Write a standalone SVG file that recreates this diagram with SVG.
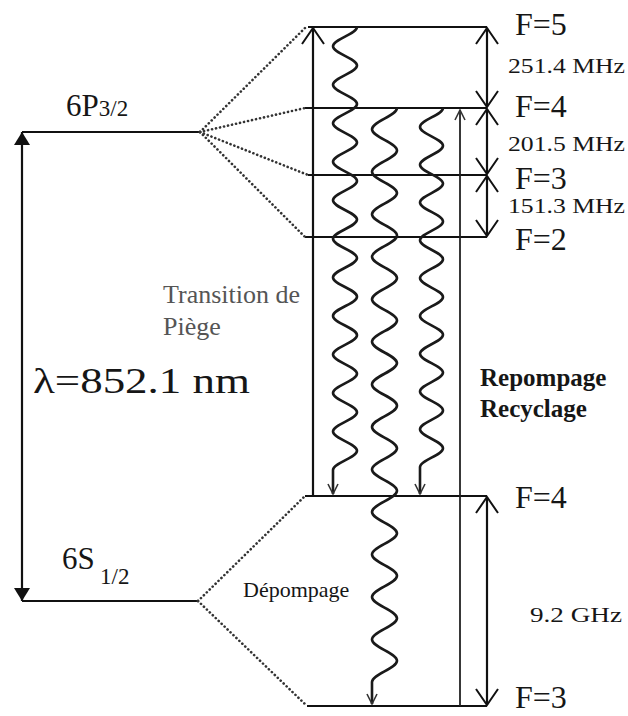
<svg xmlns="http://www.w3.org/2000/svg" width="628" height="716" viewBox="0 0 628 716">
<style>
.lvl{stroke:#111;stroke-width:2.2;fill:none}
.dot{stroke:#333;stroke-width:2.6;stroke-dasharray:0.1 4;stroke-linecap:round;fill:none}
.wave{stroke:#1a1a1a;stroke-width:2.6;fill:none;stroke-linejoin:round}
.thin{stroke:#222;stroke-width:1.8;fill:none}
.t{font-family:"Liberation Serif","Times New Roman",serif;fill:#161616}
.g{fill:#555}
</style>
<defs>
<marker id="open" viewBox="-20 -14 22 28" markerWidth="22" markerHeight="28" refX="0" refY="0" orient="auto-start-reverse" markerUnits="userSpaceOnUse">
<path d="M-16,-11 L0,0 L-16,11" fill="none" stroke="#111" stroke-width="2"/>
</marker>
<marker id="small" viewBox="-12 -7 14 14" markerWidth="14" markerHeight="14" refX="0" refY="0" orient="auto" markerUnits="userSpaceOnUse">
<path d="M-10,-5 L0,0 L-10,5" fill="none" stroke="#333" stroke-width="1.6"/>
</marker>
<marker id="fill" viewBox="-15 -9 16 18" markerWidth="16" markerHeight="18" refX="0" refY="0" orient="auto-start-reverse" markerUnits="userSpaceOnUse">
<path d="M-13,-8 L0,0 L-13,8 Z" fill="#111"/>
</marker>
</defs>

<g id="fine-structure">
<path class="lvl" d="M22,132 L200,132"/>
<path class="lvl" d="M22,601 L198,601"/>
<text class="t" x="66" y="116" font-size="31">6P<tspan font-size="23">3/2</tspan></text>
<text class="t" x="62" y="569" font-size="31">6S<tspan x="100" y="584" font-size="23">1/2</tspan></text>
</g>

<g id="lambda">
<path class="lvl" d="M22,132 L22,601" marker-start="url(#fill)" marker-end="url(#fill)"/>
<text class="t" x="33" y="393" font-size="36" textLength="217" lengthAdjust="spacingAndGlyphs">λ=852.1 nm</text>
</g>

<g id="p-levels">
<path class="lvl" d="M308,27 L487,27"/>
<path class="lvl" d="M305,108 L487,108"/>
<path class="lvl" d="M308,175 L487,175"/>
<path class="lvl" d="M305,237 L487,237"/>
<text class="t" x="515" y="35" font-size="32">F=5</text>
<text class="t" x="515" y="117" font-size="32">F=4</text>
<text class="t" x="515" y="189" font-size="32">F=3</text>
<text class="t" x="515" y="250" font-size="32">F=2</text>
<text class="t" x="508" y="73" font-size="21" textLength="117" lengthAdjust="spacingAndGlyphs">251.4 MHz</text>
<text class="t" x="508" y="151" font-size="21" textLength="117" lengthAdjust="spacingAndGlyphs">201.5 MHz</text>
<text class="t" x="508" y="213" font-size="21" textLength="117" lengthAdjust="spacingAndGlyphs">151.3 MHz</text>
</g>

<g id="s-levels">
<path class="lvl" d="M305,496 L487,496"/>
<path class="lvl" d="M307,706 L487,706"/>
<text class="t" x="515" y="508" font-size="32">F=4</text>
<text class="t" x="515" y="708" font-size="32">F=3</text>
<text class="t" x="530" y="622" font-size="21" textLength="92" lengthAdjust="spacingAndGlyphs">9.2 GHz</text>
</g>

<g id="labels">
<text class="t g" x="163" y="303" font-size="26">Transition de</text>
<text class="t g" x="163" y="335" font-size="26">Piège</text>
<text class="t" x="480" y="386" font-size="25" font-weight="bold">Repompage</text>
<text class="t" x="480" y="417" font-size="25" font-weight="bold">Recyclage</text>
<text class="t" x="243" y="597" font-size="22" fill="#333">Dépompage</text>
</g>

<g id="connectors">
<path class="dot" d="M200,132 L305,28"/>
<path class="dot" d="M200,132 L305,108"/>
<path class="dot" d="M200,132 L308,175"/>
<path class="dot" d="M200,132 L305,237"/>
<path class="dot" d="M198,601 L305,496"/>
<path class="dot" d="M198,601 L307,706"/>

<path class="lvl" d="M313,496 L313,28" marker-end="url(#open)"/>
<path class="thin" d="M460,706 L460,110" marker-end="url(#small)"/>

<path class="lvl" d="M487,28 L487,107" marker-start="url(#open)" marker-end="url(#open)"/>
<path class="lvl" d="M487,109 L487,174" marker-start="url(#open)" marker-end="url(#open)"/>
<path class="lvl" d="M487,176 L487,236" marker-start="url(#open)" marker-end="url(#open)"/>
<path class="lvl" d="M487,497 L487,705" marker-start="url(#open)" marker-end="url(#open)"/>

<path class="wave" marker-end="url(#small)" d="M357,27 c0,7 -24,12.26 -24,19.26 s24,12.26 24,19.26 s-24,12.26 -24,19.26 s24,12.26 24,19.26 s-24,12.26 -24,19.26 s24,12.26 24,19.26 s-24,12.26 -24,19.26 s24,12.26 24,19.26 s-24,12.26 -24,19.26 s24,12.26 24,19.26 s-24,12.26 -24,19.26 s24,12.26 24,19.26 s-24,12.26 -24,19.26 s24,12.26 24,19.26 s-24,12.26 -24,19.26 s24,12.26 24,19.26 s-24,12.26 -24,19.26 s24,12.26 24,19.26 s-24,12.26 -24,19.26 s24,12.26 24,19.26 s-24,12.26 -24,19.26 s24,12.26 24,19.26 s-24,12.26 -24,19.26 L333,494"/>

<path class="wave" marker-end="url(#small)" d="M397,108 c0,7.7 -25,13.56 -25,21.26 s25,13.56 25,21.26 s-25,13.56 -25,21.26 s25,13.56 25,21.26 s-25,13.56 -25,21.26 s25,13.56 25,21.26 s-25,13.56 -25,21.26 s25,13.56 25,21.26 s-25,13.56 -25,21.26 s25,13.56 25,21.26 s-25,13.56 -25,21.26 s25,13.56 25,21.26 s-25,13.56 -25,21.26 s25,13.56 25,21.26 s-25,13.56 -25,21.26 s25,13.56 25,21.26 s-25,13.56 -25,21.26 s25,13.56 25,21.26 s-25,13.56 -25,21.26 s25,13.56 25,21.26 s-25,13.56 -25,21.26 s25,13.56 25,21.26 s-25,13.56 -25,21.26 s25,13.56 25,21.26 s-25,13.56 -25,21.26 s25,13.56 25,21.26 s-25,13.56 -25,21.26 L372,704"/>

<path class="wave" marker-end="url(#small)" d="M443,108 c0,6.9 -23,12 -23,18.9 s23,12 23,18.9 s-23,12 -23,18.9 s23,12 23,18.9 s-23,12 -23,18.9 s23,12 23,18.9 s-23,12 -23,18.9 s23,12 23,18.9 s-23,12 -23,18.9 s23,12 23,18.9 s-23,12 -23,18.9 s23,12 23,18.9 s-23,12 -23,18.9 s23,12 23,18.9 s-23,12 -23,18.9 s23,12 23,18.9 s-23,12 -23,18.9 s23,12 23,18.9 s-23,12 -23,18.9 L420,494"/>
</g>
</svg>
